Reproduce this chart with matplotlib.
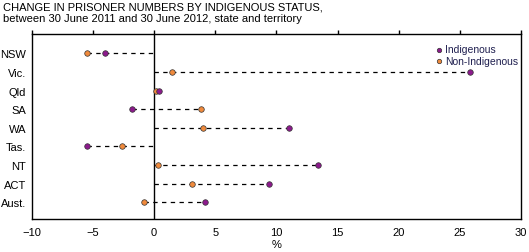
import matplotlib.pyplot as plt

# Change in prisoner numbers (%), 30 June 2011 to 30 June 2012
states = ["NSW", "Vic.", "Qld", "SA", "WA", "Tas.", "NT", "ACT", "Aust."]
indigenous = [-4.0, 25.8, 0.4, -1.8, 11.0, -5.5, 13.4, 9.4, 4.2]
non_indigenous = [-5.5, 1.5, 0.2, 3.8, 4.0, -2.6, 0.3, 3.1, -0.8]

purple = "#8C1A8C"
orange = "#F08A3C"

plt.rcParams["font.family"] = ["Liberation Sans", "DejaVu Sans"]

fig = plt.figure(figsize=(5.29, 2.53), dpi=100)
ax = fig.add_axes([0.0599, 0.1304, 0.925, 0.7313])

y = list(range(len(states)))
for i in y:
    lo = min(0, indigenous[i], non_indigenous[i])
    hi = max(0, indigenous[i], non_indigenous[i])
    ax.plot([lo, hi], [i, i], color="black", lw=0.9, ls=(0, (3.5, 3.5)), zorder=1)

ax.axvline(0, color="black", lw=1, zorder=2)
ax.scatter(indigenous, y, s=16, color=purple, edgecolor="#333333", linewidth=0.5,
           zorder=4, label="Indigenous")
ax.scatter(non_indigenous, y, s=16, color=orange, edgecolor="#333333", linewidth=0.5,
           zorder=3, label="Non-Indigenous")

ax.set_xlim(-10, 30)
ax.set_ylim(8.9, -1.04)
ax.set_xticks(range(-10, 31, 5))
ax.set_xticklabels(["\u221210", "\u22125", "0", "5", "10", "15", "20", "25", "30"])
ax.set_yticks(y)
ax.set_yticklabels(states)
ax.tick_params(axis="y", length=0, labelsize=8, pad=4)
ax.tick_params(axis="x", length=0, labelsize=8, pad=3)
ax.tick_params(axis="x", top=True, direction="out", length=3, width=1)
ax.tick_params(axis="x", bottom=False)
for s in ax.spines.values():
    s.set_linewidth(1)
ax.set_xlabel("%", fontsize=8, labelpad=1)

leg = ax.legend(loc="upper right", bbox_to_anchor=(1.015, 1.0), frameon=False,
                fontsize=7.5, handletextpad=0.1, labelspacing=0.15,
                borderpad=0.5, markerscale=0.8, handlelength=1.0)
for t in leg.get_texts():
    t.set_color("#1F1F4F")

fig.text(0.006, 0.99, "CHANGE IN PRISONER NUMBERS BY INDIGENOUS STATUS,\n"
         "between 30 June 2011 and 30 June 2012, state and territory",
         fontsize=8, va="top", ha="left", linespacing=1.15)

fig.savefig("out.png", dpi=100)
